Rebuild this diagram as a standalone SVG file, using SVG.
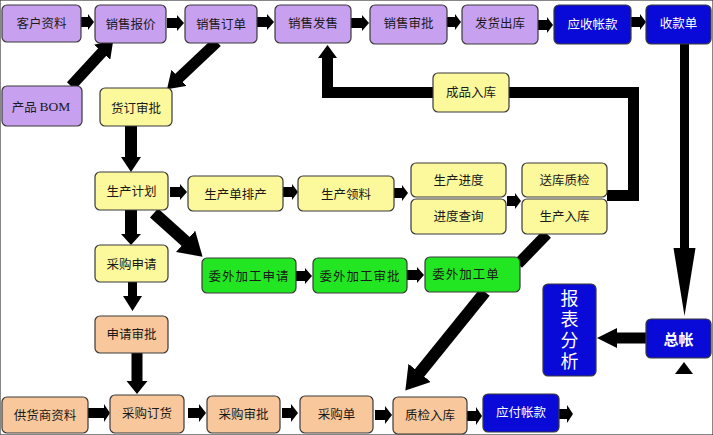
<svg xmlns="http://www.w3.org/2000/svg" width="713" height="435" viewBox="0 0 713 435">
<style>
rect{stroke:#3a3a3a;stroke-width:1.2}
.p{fill:#c8a0f0}.y{fill:#fcf89c}.g{fill:#22e622}.o{fill:#f8c89c}.b{fill:#0a0ad8}
text{font-family:"Noto Sans CJK SC","Noto Sans",sans-serif;font-size:12.5px;fill:#1a1a1a;text-anchor:middle;dominant-baseline:central}
.w{fill:#fff}
.ar{fill:#000;stroke:none}
.ln{stroke:#000;fill:none}
</style>
<defs>
<marker id="ah" viewBox="0 0 15 20" refX="0.5" refY="10" markerWidth="1.5" markerHeight="2" orient="auto" markerUnits="strokeWidth"><path d="M0,0L15,10L0,20Z" fill="#000"/></marker>
<marker id="ahb" viewBox="0 0 19 24" refX="0.5" refY="12" markerWidth="1.9" markerHeight="2.4" orient="auto" markerUnits="strokeWidth"><path d="M0,0L19,12L0,24Z" fill="#000"/></marker>
</defs>
<rect width="713" height="435" fill="#fff" stroke="none"/>
<g id="connectors">
<polyline class="ln" stroke-width="11" points="607,195.5 633.5,195.5 633.5,92.5 327.5,92.5 327.5,57.5"/>
<path class="ar" d="M318,58L327.5,45L337,58Z"/>
<line class="ln" stroke-width="11" x1="547" y1="234" x2="518" y2="264"/>
<line class="ln" stroke-width="11" x1="71" y1="86" x2="102.5" y2="51.8" marker-end="url(#ah)"/>
<line class="ln" stroke-width="11" x1="217" y1="42" x2="178.6" y2="78.2" marker-end="url(#ah)"/>
<line class="ln" stroke-width="12" x1="154" y1="213" x2="186" y2="241.8" marker-end="url(#ahb)"/>
<line class="ln" stroke-width="12" x1="485" y1="292" x2="419.3" y2="373.3" marker-end="url(#ahb)"/>
<path class="ar" d="M125,126V157H121L131,172L141,157H137V126Z"/>
<path class="ar" d="M125,210V234H121L131,245L141,234H137V210Z"/>
<path class="ar" d="M128,282V296H123L132.5,311L142,296H137V282Z"/>
<path class="ar" d="M131.5,353V381H126.5L137,394L147.5,381H142.5V353Z"/>
<path class="ar" d="M680,44V248H673.5L684.5,316L695.5,248H689V44Z"/>
<path class="ar" d="M646,332.5H617V328L597,338L617,348V343.5H646Z"/>
<path class="ar" d="M675,374L684,362L693,374Z"/>
<path class="ar" d="M81,17H88V14L94,22L88,30V27H81Z"/>
<path class="ar" d="M167,18H177V15L184,23L177,31V28H167Z"/>
<path class="ar" d="M257,17H267V14L274,22L267,30V27H257Z"/>
<path class="ar" d="M351,18H362V15L369,23L362,31V28H351Z"/>
<path class="ar" d="M447,17H455V14L461,22L455,30V27H447Z"/>
<path class="ar" d="M538,20H547V17L553,25L547,33V30H538Z"/>
<path class="ar" d="M631,17H640V14L646,22L640,30V27H631Z"/>
<path class="ar" d="M170,187H180V184L187,192L180,200V197H170Z"/>
<path class="ar" d="M283,187H292V184L298,192L292,200V197H283Z"/>
<path class="ar" d="M394,188H402V185L408,193L402,201V198H394Z"/>
<path class="ar" d="M507,196H515V193L521,201L515,209V206H507Z"/>
<path class="ar" d="M296,271H305V268L312,276L305,284V281H296Z"/>
<path class="ar" d="M407,270H417V267L424,275L417,283V280H407Z"/>
<path class="ar" d="M88,408H104V404L110,413L104,422V418H88Z"/>
<path class="ar" d="M188,408H199V404L206,413L199,422V418H188Z"/>
<path class="ar" d="M282,408H291V404L298,413L291,422V418H282Z"/>
<path class="ar" d="M375,410H385V406L392,415L385,424V420H375Z"/>
<path class="ar" d="M467,411H476V407L482,416L476,425V421H467Z"/>
<path class="ar" d="M559,409H567V405L573,414L567,423V419H559Z"/>
</g>
<g id="nodes">
<g id="n1"><rect class="p" x="2" y="5" width="79" height="37" rx="5"/><text x="41.5" y="22.5">客户资料</text></g>
<g id="n2"><rect class="p" x="95" y="5" width="71" height="38" rx="5"/><text x="130.5" y="23">销售报价</text></g>
<g id="n3"><rect class="p" x="185" y="5" width="72" height="38" rx="5"/><text x="221" y="23">销售订单</text></g>
<g id="n4"><rect class="p" x="275" y="5" width="76" height="38" rx="5"/><text x="313" y="22">销售发售</text></g>
<g id="n5"><rect class="p" x="370" y="5" width="77" height="39" rx="5"/><text x="408.5" y="22">销售审批</text></g>
<g id="n6"><rect class="p" x="462" y="5" width="76" height="39" rx="5"/><text x="500" y="22">发货出库</text></g>
<g id="n7"><rect class="b" x="554" y="5" width="77" height="39" rx="5"/><text class="w" x="592.5" y="23">应收帐款</text></g>
<g id="n8"><rect class="b" x="646" y="5" width="65" height="39" rx="5"/><text class="w" x="678.5" y="22">收款单</text></g>
<g id="n9"><rect class="p" x="2" y="86" width="80" height="40" rx="5"/><text x="41" y="106">产品 <tspan style="font-family:'Liberation Serif',serif;font-size:13.5px">BOM</tspan></text></g>
<g id="n10"><rect class="y" x="100" y="88" width="72" height="38" rx="5"/><text x="136" y="107">货订审批</text></g>
<g id="n11"><rect class="y" x="433" y="73" width="76" height="39" rx="5"/><text x="471" y="91">成品入库</text></g>
<g id="n12"><rect class="y" x="95" y="172" width="73" height="38" rx="5"/><text x="131.5" y="190">生产计划</text></g>
<g id="n13"><rect class="y" x="188" y="176" width="95" height="35" rx="5"/><text x="235.5" y="193">生产单排产</text></g>
<g id="n14"><rect class="y" x="298" y="176" width="96" height="35" rx="5"/><text x="346" y="193">生产领料</text></g>
<g id="n15"><rect class="y" x="411" y="163" width="95" height="34" rx="5"/><text x="458.5" y="179">生产进度</text></g>
<g id="n16"><rect class="y" x="411" y="199" width="95" height="35" rx="5"/><text x="458.5" y="215.5">进度查询</text></g>
<g id="n17"><rect class="y" x="522" y="163" width="85" height="34" rx="5"/><text x="564.5" y="179">送库质检</text></g>
<g id="n18"><rect class="y" x="522" y="199" width="85" height="35" rx="5"/><text x="564.5" y="215.5">生产入库</text></g>
<g id="n19"><rect class="y" x="95" y="245" width="73" height="37" rx="5"/><text x="131.5" y="263">采购申请</text></g>
<g id="n20"><rect class="g" x="202" y="258" width="94" height="35" rx="5"/><text x="249" y="275" letter-spacing="1">委外加工申请</text></g>
<g id="n21"><rect class="g" x="313" y="258" width="94" height="35" rx="5"/><text x="360" y="275" letter-spacing="1">委外加工审批</text></g>
<g id="n22"><rect class="g" x="425" y="257" width="95" height="35" rx="5"/><text x="466" y="273" letter-spacing="1">委外加工单</text></g>
<g id="n23"><rect class="o" x="95" y="316" width="73" height="37" rx="5"/><text x="131.5" y="333">申请审批</text></g>
<g id="n24"><rect class="b" x="543" y="284" width="53" height="92" rx="5"/><text class="w" x="569.5" y="331" style="writing-mode:vertical-rl;font-size:18px;letter-spacing:3px">报表分析</text></g>
<g id="n25"><rect class="b" x="646" y="319" width="65" height="39" rx="5"/><text class="w" x="678.5" y="338" style="font-size:15px;font-weight:bold">总帐</text></g>
<g id="n26"><rect class="o" x="2" y="397" width="86" height="36" rx="5"/><text x="45" y="414">供货商资料</text></g>
<g id="n27"><rect class="o" x="110" y="395" width="74" height="38" rx="5"/><text x="147" y="412">采购订货</text></g>
<g id="n28"><rect class="o" x="207" y="396" width="73" height="37" rx="5"/><text x="243.5" y="413">采购审批</text></g>
<g id="n29"><rect class="o" x="300" y="396" width="73" height="37" rx="5"/><text x="336.5" y="413">采购单</text></g>
<g id="n30"><rect class="o" x="393" y="397" width="74" height="37" rx="5"/><text x="430" y="414">质检入库</text></g>
<g id="n31"><rect class="b" x="483" y="394" width="76" height="38" rx="5"/><text class="w" x="521" y="411">应付帐款</text></g>
</g>
</svg>
